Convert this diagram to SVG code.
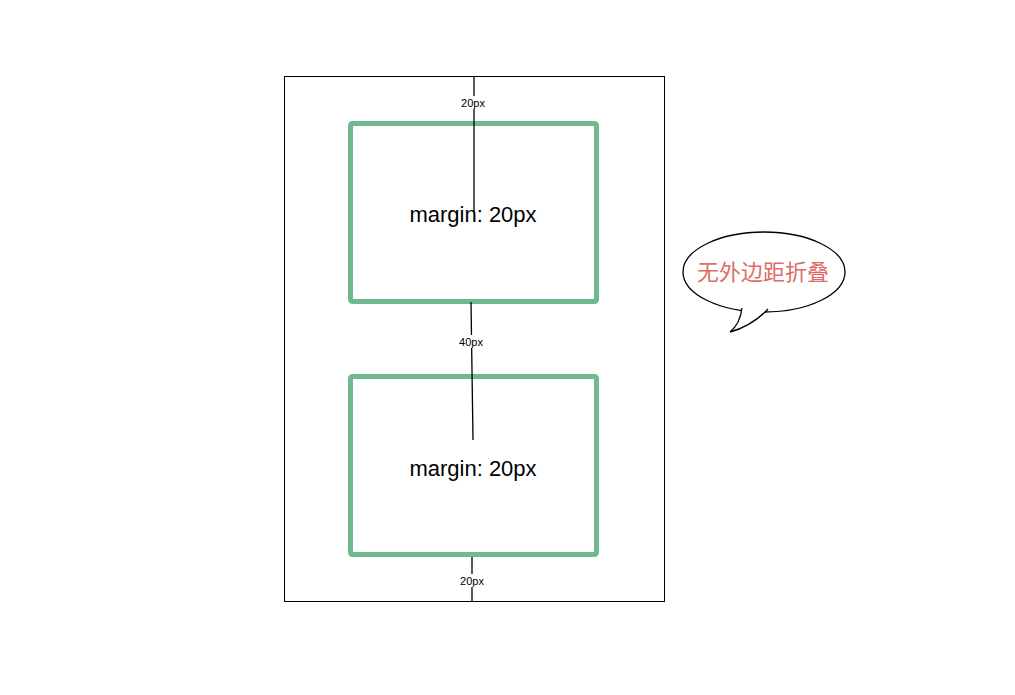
<svg xmlns="http://www.w3.org/2000/svg" width="1015" height="695" viewBox="0 0 1015 695">
<style>
.box{fill:none;stroke:#6fb98f;stroke-width:5}
.ln{stroke:#000;stroke-width:1.3;fill:none}
.lbl{font-family:"Liberation Sans",Arial,sans-serif;font-size:11px;fill:#000;text-anchor:middle}
.big{font-family:"Liberation Sans",Arial,sans-serif;font-size:22px;fill:#000;text-anchor:middle}
.cn{font-family:"Noto Sans CJK SC","Liberation Sans",sans-serif;font-size:22px;fill:#e06c66;text-anchor:middle}
</style>
<rect width="1015" height="695" fill="#fff"/>
<g id="container"><rect x="284.5" y="76.5" width="380" height="525" fill="none" stroke="#000" stroke-width="1"/></g>
<g id="box1"><rect class="box" x="350.5" y="123.5" width="246" height="178" rx="2"/><text class="big" x="473" y="222">margin: 20px</text></g>
<g id="box2"><rect class="box" x="350.5" y="376.5" width="246" height="178" rx="2"/><text class="big" x="473" y="476">margin: 20px</text></g>
<g id="connectors">
<line class="ln" x1="474" y1="76" x2="474" y2="212"/>
<line class="ln" x1="471" y1="302" x2="473" y2="440"/>
<line class="ln" x1="472" y1="557" x2="472" y2="601"/>
<rect x="459" y="96" width="28" height="13" fill="#fff"/>
<text class="lbl" x="473" y="107">20px</text>
<rect x="457" y="335" width="28" height="13" fill="#fff"/>
<text class="lbl" x="471" y="346">40px</text>
<rect x="458" y="574" width="28" height="13" fill="#fff"/>
<text class="lbl" x="472" y="585">20px</text>
</g>
<g id="bubble">
<ellipse cx="764" cy="272" rx="81" ry="40" fill="#fff" stroke="#000" stroke-width="1.3"/>
<path d="M742,308 Q740,324 730,332 Q752,326 768,309" fill="#fff" stroke="#000" stroke-width="1.3"/>
<text class="cn" x="763" y="280">无外边距折叠</text>
</g>
</svg>
